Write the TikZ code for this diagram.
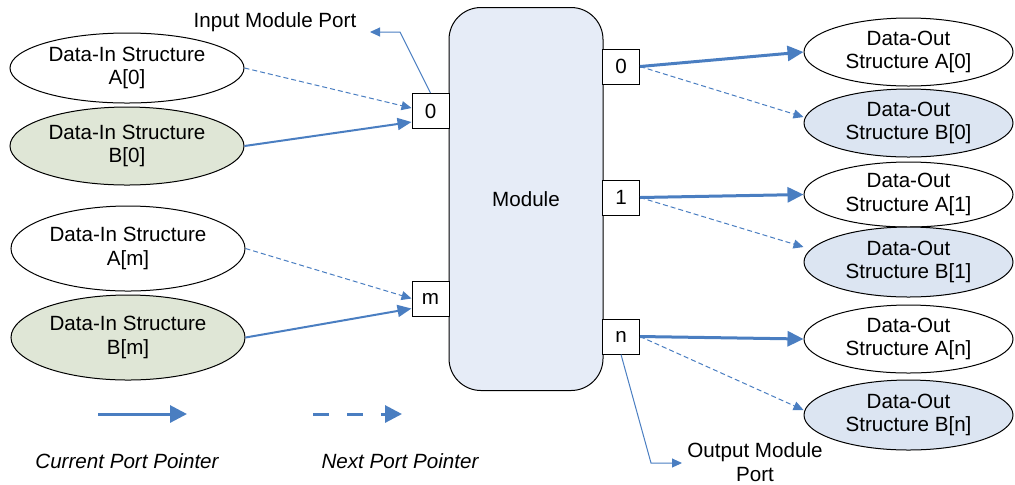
\documentclass[tikz,border=0pt]{standalone}
\usepackage{fontspec}
\setmainfont{Liberation Sans}
\usepackage{tikz}
\usetikzlibrary{arrows.meta,shapes.geometric}
\definecolor{ptrblue}{RGB}{74,126,193}
\definecolor{modfill}{RGB}{230,236,247}
\definecolor{outfill}{RGB}{220,229,242}
\definecolor{infill}{RGB}{223,230,214}
\newcommand{\dgfont}{\fontsize{10.3}{11.8}\selectfont}
\tikzset{
  cur/.style={-{Triangle[length=7pt,width=6pt]}, line width=1pt, color=ptrblue},
  curthick/.style={-{Triangle[length=8pt,width=7.5pt]}, line width=1.5pt, color=ptrblue},
  nxt/.style={-{Triangle[length=5pt,width=4.5pt]}, line width=0.5pt, dash pattern=on 2.5pt off 1.5pt, color=ptrblue},
  callout/.style={-{Triangle[length=5pt,width=4.5pt]}, line width=0.5pt, color=ptrblue},
  dstruct/.style={ellipse, draw, line width=0.5pt, inner sep=0pt, align=center},
  port/.style={rectangle, draw, fill=white, line width=0.5pt, minimum width=18.5pt, minimum height=17.5pt, inner sep=0pt},
  lgd/.style={font=\dgfont\itshape}
}

\begin{document}
\begin{tikzpicture}[x=0.5pt, y=-0.5pt, font=\dgfont]
\useasboundingbox (0,0) rectangle (1015,484);
% module with its ports
\node[draw, fill=modfill, rounded corners=16pt, line width=0.5pt, minimum width=77pt, minimum height=191.5pt] (module) at (526,199) {Module};
\node[port] (pi0) at (430.5,111) {0};
\node[port] (pim) at (430.5,298.5) {m};
\node[port] (po0) at (621,66.5) {0};
\node[port] (po1) at (621,197.5) {1};
\node[port] (pon) at (621,336.5) {n};
% data-in structures
\node[dstruct, minimum width=117pt, minimum height=35pt] (inA0) at (127,68) {Data-In Structure\\A[0]};
\node[dstruct, fill=infill, minimum width=117pt, minimum height=39pt] (inB0) at (127,146) {Data-In Structure\\B[0]};
\node[dstruct, minimum width=117pt, minimum height=42.5pt] (inAm) at (128,248.5) {Data-In Structure\\A[m]};
\node[dstruct, fill=infill, minimum width=117pt, minimum height=42.5pt] (inBm) at (128,337.5) {Data-In Structure\\B[m]};
% data-out structures
\node[dstruct, minimum width=104.5pt, minimum height=34pt] (outA0) at (908.5,52) {Data-Out\\Structure A[0]};
\node[dstruct, fill=outfill, minimum width=104.5pt, minimum height=34pt] (outB0) at (908.5,123) {Data-Out\\Structure B[0]};
\node[dstruct, minimum width=104.5pt, minimum height=32.5pt] (outA1) at (908.5,194.5) {Data-Out\\Structure A[1]};
\node[dstruct, fill=outfill, minimum width=104.5pt, minimum height=35pt] (outB1) at (908.5,262) {Data-Out\\Structure B[1]};
\node[dstruct, minimum width=104.5pt, minimum height=34pt] (outAn) at (908.5,339) {Data-Out\\Structure A[n]};
\node[dstruct, fill=outfill, minimum width=104.5pt, minimum height=35pt] (outBn) at (908.5,415) {Data-Out\\Structure B[n]};
% pointers into the module
\draw[nxt] (inA0.east) -- ([yshift=1.5pt]pi0.west);
\draw[cur] (inB0.east) -- ([yshift=-5.5pt]pi0.west);
\draw[nxt] (inAm.east) -- (pim.west);
\draw[cur] (inBm.east) -- ([yshift=-5pt]pim.west);
% pointers out of the module
\draw[curthick] (po0.east) -- (outA0.west);
\draw[nxt] (po0.east) -- ([yshift=3pt]outB0.west);
\draw[curthick] (po1.east) -- (outA1.west);
\draw[nxt] (po1.east) -- ([yshift=7.5pt]outB1.west);
\draw[curthick] (pon.east) -- (outAn.west);
\draw[nxt] (pon.east) -- ([yshift=2.5pt]outBn.west);
% port callouts
\node (inport) at (275,22) {Input Module Port};
\coordinate (inbend) at (400,32);
\coordinate (inend) at (370,32);
\draw[callout] (pi0.north) -- (inbend) -- (inend);
\node[align=center] (outport) at (755,462) {Output Module\\Port};
\coordinate (outbend) at (651,463);
\coordinate (outend) at (682,463);
\draw[callout] (pon.south) -- (outbend) -- (outend);
% legend
\coordinate (curfrom) at (98,414);
\coordinate (curto) at (187,414);
\coordinate (nxtfrom) at (313,414);
\coordinate (nxtto) at (402,414);
\draw[-{Triangle[length=8.5pt,width=8.5pt]}, line width=1.5pt, color=ptrblue] (curfrom) -- (curto);
\draw[-{Triangle[length=8.5pt,width=8.5pt]}, line width=1.5pt, color=ptrblue, dash pattern=on 8pt off 9pt] (nxtfrom) -- (nxtto);
\node[lgd] (curlbl) at (127,461) {Current Port Pointer};
\node[lgd] (nxtlbl) at (400,461) {Next Port Pointer};
\end{tikzpicture}
\end{document}
